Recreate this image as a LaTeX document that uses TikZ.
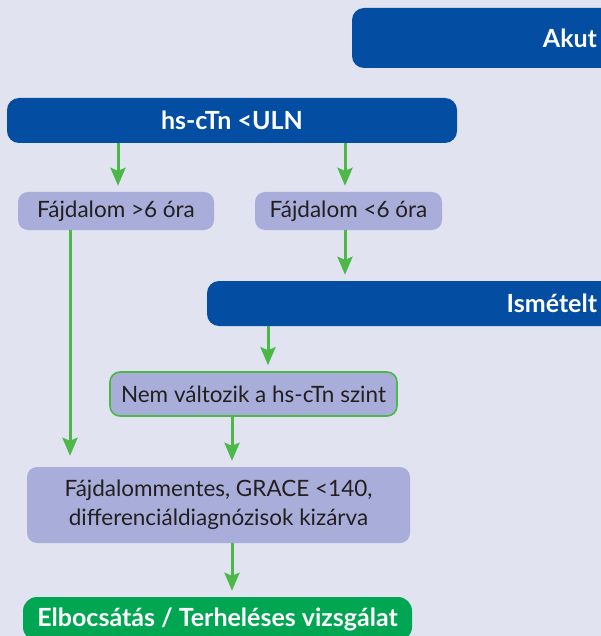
\documentclass[tikz,border=0pt]{standalone}
\usepackage{fontspec}
\setmainfont{Lato}
\usetikzlibrary{arrows.meta}

\definecolor{bgcol}{HTML}{E1E3F1}
\definecolor{hdblue}{HTML}{034EA2}
\definecolor{lilac}{HTML}{A8AED9}
\definecolor{arrgreen}{HTML}{4CB848}
\definecolor{boxgreen}{HTML}{00A651}
\definecolor{inkcol}{HTML}{231F20}

\begin{document}
\begin{tikzpicture}[x=1pt,y=-1pt,
	headbox/.style={fill=hdblue, text=white, rounded corners=12pt, inner ysep=0pt,
		font=\bfseries\fontsize{25}{28}\selectfont},
	stepbox/.style={fill=lilac, text=inkcol, rounded corners=10pt, inner sep=0pt,
		font=\fontsize{22.5}{29}\selectfont},
	endbox/.style={fill=boxgreen, text=white, rounded corners=14pt, inner sep=0pt,
		font=\bfseries\fontsize{25}{28}\selectfont},
	arr/.style={draw=arrgreen, line width=3pt, shorten >=6pt,
		-{Stealth[length=18pt,width=15pt,inset=3pt]}}]

	\fill [bgcol] (0,0) rectangle (601,636);
	\useasboundingbox (0,0) rectangle (601,636);

	% header bars
	\node [headbox, text width=225pt, inner xsep=20pt, align=right, minimum height=60pt] (akut) at (484.5,38) {Akut};
	\node [headbox, minimum width=450pt, minimum height=45pt] (hs) at (232,120.5) {hs-cTn <ULN};
	\node [headbox, text width=370pt, inner xsep=20pt, align=right, minimum height=45pt] (ism) at (412,303.5) {Ismételt};

	% steps
	\node [stepbox, minimum width=196pt, minimum height=38pt] (more) at (116,211) {Fájdalom >6 óra};
	\node [stepbox, minimum width=187pt, minimum height=38pt] (less) at (348.5,211) {Fájdalom <6 óra};
	\node [stepbox, draw=arrgreen, line width=1.6pt, minimum width=287pt, minimum height=44pt] (same) at (253.5,394) {Nem változik a hs-cTn szint};
	\node [stepbox, align=center, minimum width=383pt, minimum height=76pt] (free) at (218.5,505) {Fájdalommentes, GRACE <140,\\differenciáldiagnózisok kizárva};
	\node [endbox, minimum width=389pt, minimum height=44pt] (out) at (217.5,619) {Elbocsátás / Terheléses vizsgálat};

	% arrows
	\draw [arr] ([xshift=2pt]more.north |- hs.south) -- ([xshift=2pt]more.north);
	\draw [arr] ([xshift=-3.5pt]less.north |- hs.south) -- ([xshift=-3.5pt]less.north);
	\draw [arr] ([xshift=-3.5pt]less.south) -- ([xshift=-3.5pt]less.south |- ism.north);
	\draw [arr] ([xshift=14.5pt]same.north |- ism.south) -- ([xshift=14.5pt]same.north);
	\draw [arr] ([xshift=13.5pt]free.north |- same.south) -- ([xshift=13.5pt]free.north);
	\draw [arr, shorten >=11pt] ([xshift=-46pt]more.south) -- ([xshift=-46pt]more.south |- free.north);
	\draw [arr] ([xshift=14.5pt]out.north |- free.south) -- ([xshift=14.5pt]out.north);

\end{tikzpicture}
\end{document}
